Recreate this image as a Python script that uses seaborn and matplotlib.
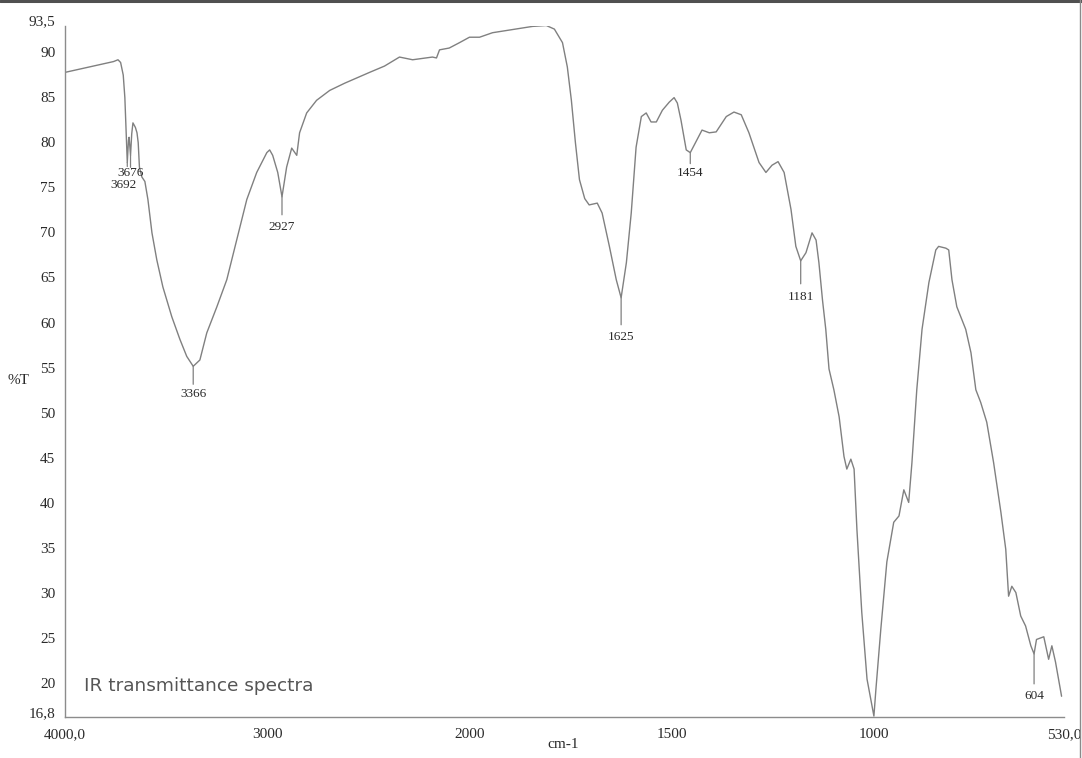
import numpy as np
import pandas as pd
import matplotlib
matplotlib.use("Agg")
import matplotlib.pyplot as plt
from matplotlib.lines import Line2D
from matplotlib.ticker import FixedLocator, FixedFormatter
import seaborn as sns

# ---- spectrum (wavenumber in cm-1, transmittance in %T) ----
wavenumber = [
    4000, 3900, 3820, 3760, 3738, 3725, 3712, 3704, 3698, 3692,
    3686, 3683, 3676, 3670, 3664, 3652, 3644, 3638, 3632, 3620,
    3605, 3590, 3570, 3546, 3516, 3472, 3432, 3398, 3366, 3333,
    3299, 3249, 3200, 3151, 3101, 3052, 3002, 2988, 2973, 2948,
    2927, 2904, 2879, 2854, 2840, 2805, 2756, 2691, 2617, 2494,
    2420, 2346, 2281, 2183, 2163, 2148, 2100, 2049, 2000, 1975,
    1943, 1900, 1844, 1810, 1790, 1770, 1758, 1748, 1738, 1728,
    1715, 1704, 1684, 1672, 1654, 1637, 1625, 1612, 1600, 1588,
    1575, 1563, 1551, 1538, 1523, 1506, 1494, 1486, 1477, 1464,
    1454, 1440, 1425, 1407, 1390, 1365, 1346, 1328, 1309, 1284,
    1267, 1252, 1237, 1222, 1205, 1193, 1181, 1168, 1153, 1143,
    1136, 1127, 1119, 1111, 1099, 1086, 1074, 1067, 1057, 1049,
    1042, 1030, 1017, 1000, 995, 983, 968, 951, 938, 926,
    914, 906, 894, 881, 864, 847, 840, 822, 815, 807,
    795, 773, 760, 748, 736, 721, 704, 686, 674, 667,
    659, 649, 637, 625, 612, 604, 598, 580, 568, 560,
    551, 536,
]
transmittance = [
    88.3, 88.8, 89.2, 89.5, 89.7, 89.4, 88.0, 85.5, 82.0, 78.3,
    80.8, 81.1, 79.1, 81.5, 82.7, 82.2, 81.6, 80.5, 77.8, 76.7,
    76.2, 74.2, 70.5, 67.5, 64.5, 61.2, 58.7, 56.8, 55.7, 56.4,
    59.4, 62.3, 65.3, 69.7, 74.2, 77.2, 79.4, 79.7, 79.1, 77.2,
    74.5, 77.8, 79.9, 79.1, 81.6, 83.8, 85.2, 86.3, 87.1, 88.3,
    89.0, 90.0, 89.7, 90.0, 89.9, 90.8, 91.0, 91.6, 92.2, 92.2,
    92.7, 93.0, 93.4, 93.5, 93.1, 91.6, 88.9, 85.2, 80.5, 76.4,
    74.3, 73.6, 73.8, 72.7, 69.0, 65.3, 63.3, 67.2, 72.7, 80.0,
    83.4, 83.8, 82.8, 82.8, 84.1, 85.0, 85.5, 84.9, 83.0, 79.7,
    79.4, 80.6, 81.9, 81.6, 81.7, 83.4, 83.9, 83.6, 81.6, 78.3,
    77.2, 78.0, 78.4, 77.2, 73.1, 69.0, 67.4, 68.3, 70.5, 69.7,
    67.2, 63.0, 59.8, 55.4, 53.1, 50.1, 45.7, 44.3, 45.4, 44.3,
    37.6, 28.4, 21.0, 16.9, 19.9, 26.5, 34.0, 38.4, 39.1, 42.0,
    40.6, 45.0, 53.1, 59.8, 65.0, 68.6, 69.0, 68.8, 68.6, 65.3,
    62.3, 59.8, 57.2, 53.1, 51.7, 49.5, 45.0, 39.5, 35.4, 30.2,
    31.3, 30.6, 28.0, 26.9, 24.7, 23.8, 25.4, 25.7, 23.2, 24.7,
    22.9, 19.1,
]

# labelled absorption bands
peaks = [3692, 3676, 3366, 2927, 1625, 1454, 1181, 604]

# axis ticks
x_ticks = [4000, 3000, 2000, 1500, 1000, 530]
x_tick_labels = ["4000,0", "3000", "2000", "1500", "1000", "530,0"]
y_ticks = [93.5, 90, 85, 80, 75, 70, 65, 60, 55, 50, 45, 40, 35, 30, 25, 20, 16.8]
y_tick_labels = ["93,5", "90", "85", "80", "75", "70", "65", "60", "55", "50",
                 "45", "40", "35", "30", "25", "20", "16,8"]

df = pd.DataFrame({"wavenumber": wavenumber, "T": transmittance})

# ---- figure ----
sns.set_style("white")
plt.rcParams["font.family"] = ["Liberation Serif", "DejaVu Serif"]

W, H = 1082, 758
fig = plt.figure(figsize=(W / 100, H / 100), dpi=100)
ax = fig.add_axes([65 / W, 1 - 717 / H, (1064 - 65) / W, (717 - 25.5) / H])

line_col = "#808080"
axis_col = "#8c8c8c"
text_col = "#2a2a2a"


# spectrometer scale: wavenumbers above 2000 are compressed by a factor of 2
def _fwd(x):
    x = np.asarray(x, dtype=float)
    return np.where(x > 2000, 2000 + (x - 2000) / 2.0, x)


def _inv(t):
    t = np.asarray(t, dtype=float)
    return np.where(t > 2000, 2000 + (t - 2000) * 2.0, t)


ax.set_xscale("function", functions=(_fwd, _inv))

sns.lineplot(data=df, x="wavenumber", y="T", sort=False, estimator=None,
             color=line_col, lw=1.0, ax=ax)

ax.set_xlim(4000, 530)
ax.set_ylim(16.8, 93.5)

ax.xaxis.set_major_locator(FixedLocator(x_ticks))
ax.xaxis.set_major_formatter(FixedFormatter(x_tick_labels))
ax.xaxis.set_minor_locator(FixedLocator([]))
ax.yaxis.set_major_locator(FixedLocator(y_ticks))
ax.yaxis.set_major_formatter(FixedFormatter(y_tick_labels))

ax.tick_params(axis="both", which="major", direction="out", length=4,
               width=0.8, color=axis_col, labelsize=11, labelcolor=text_col)
ax.tick_params(axis="x", pad=4)
ax.tick_params(axis="y", pad=2, length=5)
for lab in ax.get_yticklabels():
    lab.set_verticalalignment("baseline")

for side in ("top", "right"):
    ax.spines[side].set_visible(False)
for side in ("left", "bottom"):
    ax.spines[side].set_color(axis_col)
    ax.spines[side].set_linewidth(1.0)

ax.set_xlabel("")
ax.set_ylabel("")
fig.text(563 / W, 1 - 745 / H, "cm-1", ha="center", va="center",
         fontsize=11, color=text_col)
fig.text(18 / W, 1 - 381 / H, "%T", ha="center", va="center",
         fontsize=11, color=text_col)

# peak markers: (leader length px, text dx px, text drop px)
peak_style = {
    3692: (4, -4, 16),
    3676: (12, 0, 12),
    3366: (18, 0, 22),
    2927: (18, 0, 24),
    1625: (27, 0, 33),
    1454: (11, 0, 14),
    1181: (23, 0, 30),
    604: (30, 0, 36),
}
lookup = dict(zip(wavenumber, transmittance))
for wn in peaks:
    t = lookup[wn]
    lead, dx, drop = peak_style[wn]
    ax.annotate("", xy=(wn, t), xytext=(0, -lead), textcoords="offset pixels",
                arrowprops=dict(arrowstyle="-", color=line_col, lw=0.9,
                                shrinkA=0, shrinkB=0))
    ax.annotate(str(wn), xy=(wn, t), xytext=(dx, -drop),
                textcoords="offset pixels", ha="center", va="top",
                fontsize=9.5, color=text_col)

fig.text(84 / W, 1 - 686 / H, "IR transmittance spectra", ha="left",
         va="center", fontsize=13.3, color="#555555", family="DejaVu Sans")

# page frame edges
fig.add_artist(Line2D([0, 1], [1 - 1 / H, 1 - 1 / H], transform=fig.transFigure,
                      color="#505050", lw=2.2))
fig.add_artist(Line2D([1 - 2 / W, 1 - 2 / W], [0, 1], transform=fig.transFigure,
                      color="#8a8a8a", lw=1.0))

fig.savefig("out.png", dpi=100)
